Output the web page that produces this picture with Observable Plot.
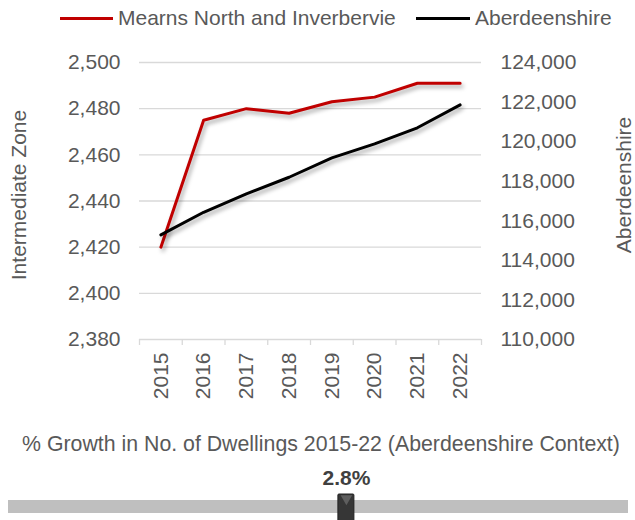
<!DOCTYPE html>
<html><head><meta charset="utf-8">
<script src="https://cdn.jsdelivr.net/npm/d3@7"></script>
<script src="https://cdn.jsdelivr.net/npm/@observablehq/plot@0.6"></script>
<style>
body{margin:0;background:#fff;font-family:"Liberation Sans",Arial,sans-serif;color:#595959;width:635px;height:520px;overflow:hidden}
#legend{position:relative;height:36px}
#legend .sw{position:absolute;top:16.5px;height:3px}
#legend .lb{position:absolute;top:0;line-height:36px;font-size:21px;white-space:nowrap}
#chart svg{display:block}
#caption{height:46px;line-height:48px;font-size:21.3px;text-align:center;padding-left:7px;white-space:nowrap}
#slider svg{display:block}
svg g[aria-label="line"] path{filter:drop-shadow(2px 3px 2px rgba(0,0,0,0.35))}
</style></head><body>
<div id="legend"></div>
<div id="chart"></div>
<div id="caption"></div>
<div id="slider"></div>
<script>
// ---- data ----
const years = [2015, 2016, 2017, 2018, 2019, 2020, 2021, 2022];
const zoneValues = [2420, 2475, 2480, 2478, 2483, 2485, 2491, 2491];
const shireValues = [115290, 116430, 117360, 118200, 119180, 119890, 120700, 121860];
const leftTicks = [2380, 2400, 2420, 2440, 2460, 2480, 2500];
const rightTicks = [110000, 112000, 114000, 116000, 118000, 120000, 122000, 124000];
const seriesNames = ["Mearns North and Inverbervie", "Aberdeenshire"];
const seriesColors = ["#c00000", "#000000"];
const leftTitle = "Intermediate Zone";
const rightTitle = "Aberdeenshire";
const captionText = "% Growth in No. of Dwellings 2015-22 (Aberdeenshire Context)";
const growthValue = 2.8;
const growthPosition = 0.545; // marker position along the context bar (0..1)

// ---- legend ----
const legendLayout = [{sw: 60, w: 53, lb: 118}, {sw: 416, w: 54, lb: 475}];
const legend = document.getElementById("legend");
seriesNames.forEach((n, i) => {
  const s = document.createElement("div");
  s.className = "sw"; s.style.left = legendLayout[i].sw + "px"; s.style.width = legendLayout[i].w + "px";
  s.style.background = seriesColors[i];
  const t = document.createElement("div");
  t.className = "lb"; t.style.left = legendLayout[i].lb + "px"; t.textContent = n;
  legend.appendChild(s); legend.appendChild(t);
});

// ---- dual axis mapping ----
const L0 = leftTicks[0], L1 = leftTicks[leftTicks.length - 1];
const R0 = rightTicks[0], R1 = rightTicks[rightTicks.length - 1];
const toLeft = v => L0 + (v - R0) * (L1 - L0) / (R1 - R0);
const fromLeft = v => R0 + (v - L0) * (R1 - R0) / (L1 - L0);
const fmt = d3.format(",");

const zoneData = years.map((y, i) => ({year: y, v: zoneValues[i]}));
const shireData = years.map((y, i) => ({year: y, v: toLeft(shireValues[i])}));
const boundaries = [...years.map(y => y - 0.5), years[years.length - 1] + 0.5];

const chart = Plot.plot({
  width: 635, height: 384,
  marginTop: 26, marginBottom: 81, marginLeft: 139, marginRight: 154,
  style: {fontFamily: "Liberation Sans, Arial, sans-serif", fontSize: "21px", color: "#595959", background: "white", overflow: "visible"},
  x: {domain: [years[0] - 0.5, years[years.length - 1] + 0.5]},
  y: {domain: [L0, L1]},
  marks: [
    Plot.gridY(leftTicks, {stroke: "#d9d9d9", strokeOpacity: 1, strokeWidth: 1.3}),
    Plot.axisX(boundaries, {tickSize: 6, stroke: "#d9d9d9", strokeOpacity: 1, strokeWidth: 1.3, tickFormat: () => "", label: null}),
    Plot.axisX(years, {tickSize: 0, tickRotate: -90, tickPadding: 13, tickFormat: d => String(d), label: null}),
    Plot.axisY(leftTicks, {anchor: "left", tickSize: 0, tickPadding: 19, tickFormat: fmt, label: null}),
    Plot.axisY(rightTicks.map(toLeft), {anchor: "right", tickSize: 0, tickPadding: 19, tickFormat: d => fmt(Math.round(fromLeft(d))), label: null}),
    Plot.text([leftTitle], {frameAnchor: "left", textAnchor: "middle", lineAnchor: "middle", rotate: -90, dx: -120, dy: -6, text: d => d, fill: "#595959"}),
    Plot.text([rightTitle], {frameAnchor: "right", textAnchor: "middle", lineAnchor: "middle", rotate: -90, dx: 143, dy: -16, text: d => d, fill: "#595959"}),
    Plot.line(zoneData, {x: "year", y: "v", stroke: seriesColors[0], strokeWidth: 3}),
    Plot.line(shireData, {x: "year", y: "v", stroke: seriesColors[1], strokeWidth: 3})
  ]
});
document.getElementById("chart").appendChild(chart);

document.getElementById("caption").textContent = captionText;

// ---- slider ----
const slider = Plot.plot({
  width: 635, height: 54,
  marginTop: 0, marginBottom: 0, marginLeft: 8, marginRight: 7,
  style: {fontFamily: "Liberation Sans, Arial, sans-serif", fontSize: "21px", color: "#404040", background: "white", overflow: "visible"},
  x: {domain: [0, 1], axis: null},
  marks: [
    Plot.rect([0], {x1: 0, x2: 1, insetTop: 34, insetBottom: 7, fill: "#bfbfbf"}),
    Plot.rect([growthPosition], {x1: d => d, x2: d => d, insetLeft: -8, insetRight: -8, insetTop: 28, insetBottom: -2, fill: "#363636", stroke: "#222", strokeWidth: 1, rx: 1}),
    Plot.dot([growthPosition], {x: d => d, frameAnchor: "top", dy: 32, symbol: "triangle2", rotate: 180, r: 5.5, fill: "#5e5e5e"}),
    Plot.text([growthPosition], {x: d => d, frameAnchor: "top", lineAnchor: "middle", dy: 12, text: () => growthValue.toFixed(1) + "%", fontWeight: "bold", fill: "#404040"})
  ]
});
document.getElementById("slider").appendChild(slider);
</script>
</body></html>
